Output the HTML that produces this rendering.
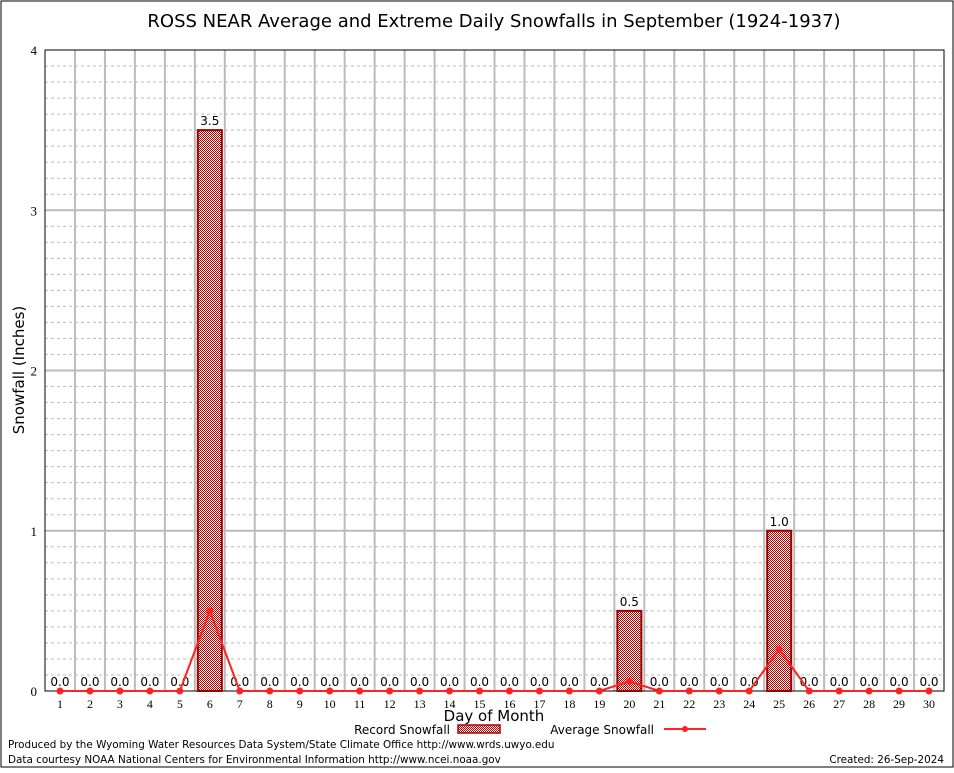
<!DOCTYPE html>
<html><head><meta charset="utf-8"><style>
body{margin:0;background:#fff}
svg text{font-family:"DejaVu Sans","Liberation Sans",sans-serif}
svg text.serif{font-family:"Liberation Serif",serif}
</style></head><body>
<svg id="c" width="954" height="768" xmlns="http://www.w3.org/2000/svg">
<defs><pattern id="hatch" width="2" height="2" patternUnits="userSpaceOnUse"><rect width="2" height="2" fill="#fff"/><rect width="1" height="1" fill="#b00"/><rect x="1" y="1" width="1" height="1" fill="#b00"/></pattern></defs>
<rect x="1" y="1" width="952" height="766" fill="#fff" stroke="#000"/>
<text x="494" y="27" font-size="18" text-anchor="middle">ROSS NEAR Average and Extreme Daily Snowfalls in September (1924-1937)</text>
<g id="grid"></g><g id="marks"></g>
<text transform="translate(24,370) rotate(-90)" font-size="15" text-anchor="middle">Snowfall (Inches)</text>
<text x="494" y="721" font-size="15" text-anchor="middle">Day of Month</text>
<g><text x="450" y="734" font-size="12" text-anchor="end">Record Snowfall</text><rect x="458" y="725" width="42" height="8" fill="url(#hatch)" stroke="#a00" stroke-width="1.5"/></g>
<g><text x="654" y="734" font-size="12" text-anchor="end">Average Snowfall</text><line x1="664" y1="729" x2="706" y2="729" stroke="#f22" stroke-width="2"/><circle cx="685" cy="729" r="3" fill="#f22"/></g>
<text x="8" y="748" font-size="10.4">Produced by the Wyoming Water Resources Data System/State Climate Office http://www.wrds.uwyo.edu</text>
<text x="8" y="763" font-size="10.4">Data courtesy NOAA National Centers for Environmental Information http://www.ncei.noaa.gov</text>
<text x="944" y="763" font-size="10.4" text-anchor="end">Created: 26-Sep-2024</text>
</svg>
<script>
const days=[];for(let d=1;d<=30;d++)days.push(d);
const records=[0,0,0,0,0,3.5,0,0,0,0,0,0,0,0,0,0,0,0,0,0.5,0,0,0,0,1.0,0,0,0,0,0];
const averages=[0,0,0,0,0,0.5,0,0,0,0,0,0,0,0,0,0,0,0,0,0.06,0,0,0,0,0.26,0,0,0,0,0];
const yTicks=[0,1,2,3,4];
const L=45,R=944,T=50,B=691,yMax=4;
const xs=d=>L+(R-L)/30*(d-0.5);
const ys=v=>B-(B-T)*v/yMax;
const NS="http://www.w3.org/2000/svg";
function mk(p,t,a){const e=document.createElementNS(NS,t);for(const k in a)e.setAttribute(k,a[k]);p.appendChild(e);return e;}
const g=document.getElementById('grid'),m=document.getElementById('marks');
for(let i=1;i<40;i++){if(i%10==0)continue;const y=ys(i/10);const l=mk(g,'line',{x1:L,x2:R,y1:y,y2:y,stroke:'#bbb','stroke-dasharray':'3,3','stroke-width':1});

}
for(let d=1;d<30;d++){const x=L+(R-L)/30*d;const l=mk(g,'line',{x1:x,x2:x,y1:T,y2:B,stroke:'#bbb','stroke-width':2});

}
yTicks.forEach(v=>{const y=ys(v);if(v>0&&v<yMax){const l=mk(g,'line',{x1:L,x2:R,y1:y,y2:y,stroke:'#bbb','stroke-width':2});

}
const t=mk(g,'text',{x:L-8,y:y+5,'font-size':13,'text-anchor':'end','class':'serif'});t.textContent=v;

});
const fr=mk(g,'rect',{x:L,y:T,width:R-L,height:B-T,fill:'none',stroke:'#000','stroke-width':1});


days.forEach((d,i)=>{const x=xs(d);const v=records[i];
if(v>0){const b=mk(m,'rect',{x:x-12,y:ys(v),width:24,height:B-ys(v),fill:'url(#hatch)',stroke:'#900','stroke-width':2});

}
const lb=mk(m,'text',{x:x,y:ys(v)-5,'font-size':12,'text-anchor':'middle'});lb.textContent=v.toFixed(1);


const tk=mk(m,'text',{x:x,y:B+17,'font-size':12,'text-anchor':'middle','class':'serif'});tk.textContent=d;

});
const pl=mk(m,'polyline',{points:days.map((d,i)=>xs(d)+','+ys(averages[i])).join(' '),fill:'none',stroke:'#f22','stroke-width':2});


days.forEach((d,i)=>{const c=mk(m,'circle',{cx:xs(d),cy:ys(averages[i]),r:3.5,fill:'#f22'});

});
</script>
</body></html>
